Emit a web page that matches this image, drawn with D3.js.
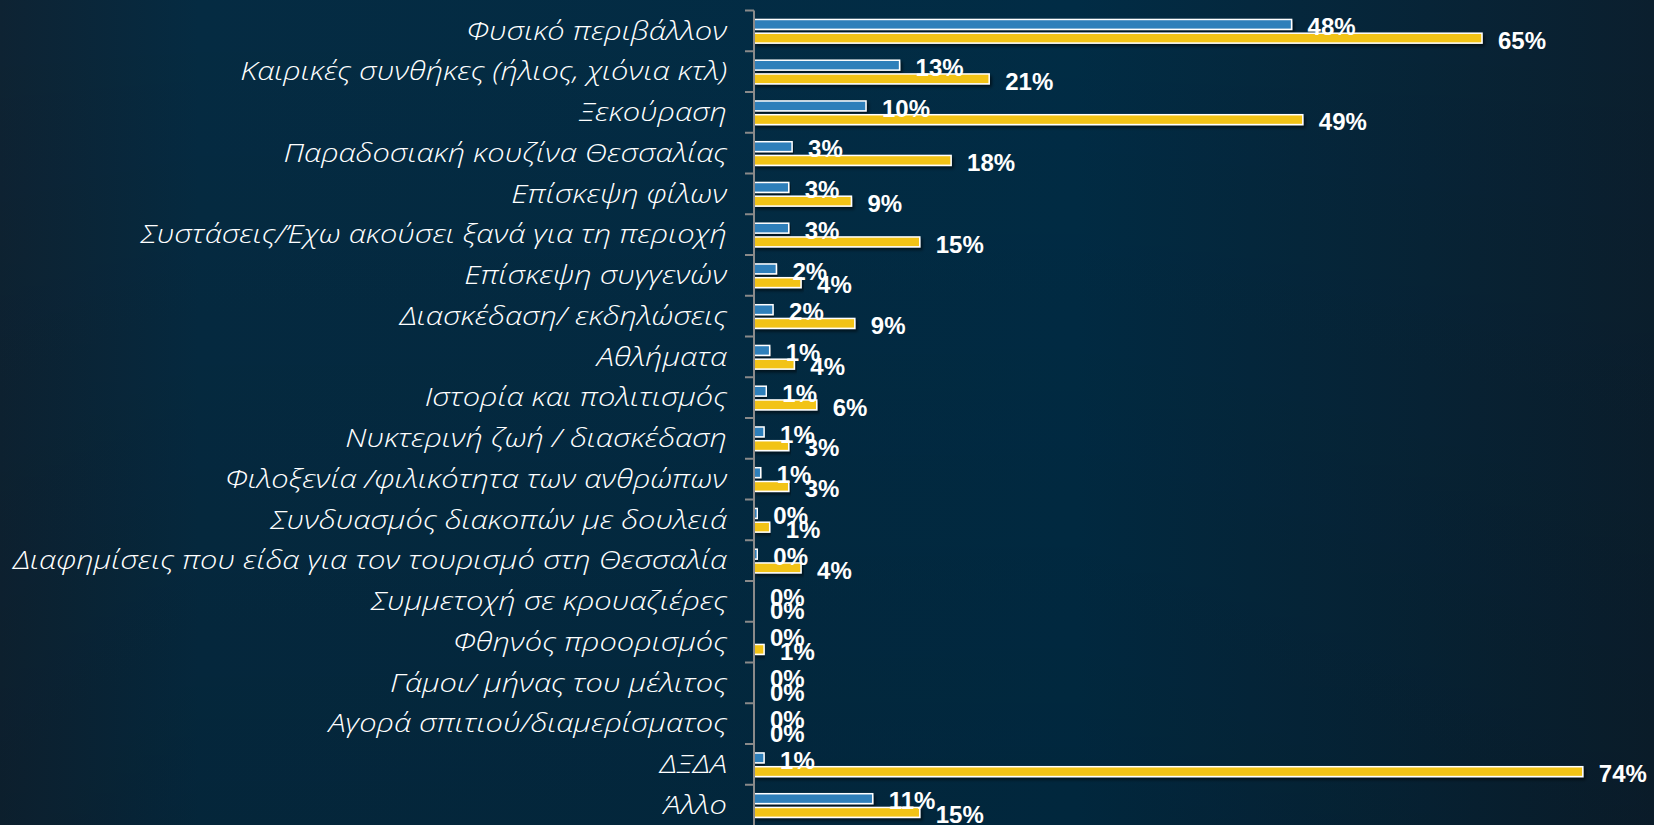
<!DOCTYPE html>
<html>
<head>
<meta charset="utf-8">
<script src="https://cdn.jsdelivr.net/npm/d3@7"></script>
<style>
  body { margin: 0; background: #022b43; overflow: hidden; }
  svg { display: block; }
</style>
</head>
<body>
<div id="chart"></div>
<script>
let svgWidth = 1654;
let svgHeight = 825;

// Data

const categories = [
  "Φυσικό περιβάλλον",
  "Καιρικές συνθήκες (ήλιος, χιόνια κτλ)",
  "Ξεκούραση",
  "Παραδοσιακή κουζίνα Θεσσαλίας",
  "Επίσκεψη φίλων",
  "Συστάσεις/Έχω ακούσει ξανά για τη περιοχή",
  "Επίσκεψη συγγενών",
  "Διασκέδαση/ εκδηλώσεις",
  "Αθλήματα",
  "Ιστορία και πολιτισμός",
  "Νυκτερινή ζωή / διασκέδαση",
  "Φιλοξενία /φιλικότητα των ανθρώπων",
  "Συνδυασμός διακοπών με δουλειά",
  "Διαφημίσεις που είδα για τον τουρισμό στη Θεσσαλία",
  "Συμμετοχή σε κρουαζιέρες",
  "Φθηνός προορισμός",
  "Γάμοι/ μήνας του μέλιτος",
  "Αγορά σπιτιού/διαμερίσματος",
  "ΔΞΔΑ",
  "Άλλο"
];

const blueValues = [0.48, 0.13, 0.10, 0.034, 0.031, 0.031, 0.020, 0.017, 0.014, 0.011,
  0.009, 0.006, 0.003, 0.003, 0, 0, 0, 0, 0.009, 0.106];

const yellowValues = [0.65, 0.21, 0.49, 0.176, 0.087, 0.148, 0.042, 0.09, 0.036, 0.056,
  0.031, 0.031, 0.014, 0.042, 0, 0.009, 0, 0, 0.74, 0.148];

const seriesKeys = ["blue", "yellow"];
const seriesColors = { blue: "#2e7fba", yellow: "#f2c318" };

let rows = categories.map((c, i) => ({ cat: c, blue: blueValues[i], yellow: yellowValues[i] }));

// Svg + background

let svg = d3.select("#chart").append("svg").attr("width", svgWidth).attr("height", svgHeight);
let defs = svg.append("defs");

let bg = defs.append("linearGradient").attr("id", "bg").attr("x1", 0).attr("x2", 1).attr("y1", 0).attr("y2", 0);
bg.append("stop").attr("offset", "0%").attr("stop-color", "#0e2333");
bg.append("stop").attr("offset", "12%").attr("stop-color", "#052b42");
bg.append("stop").attr("offset", "65%").attr("stop-color", "#012c45");
bg.append("stop").attr("offset", "100%").attr("stop-color", "#0b1f2e");

let shade = defs.append("linearGradient").attr("id", "shade").attr("x1", 0).attr("x2", 0).attr("y1", 0).attr("y2", 1);
shade.append("stop").attr("offset", "0%").attr("stop-color", "#000").attr("stop-opacity", 0);
shade.append("stop").attr("offset", "100%").attr("stop-color", "#000").attr("stop-opacity", 0.12);

let shadow = defs.append("filter").attr("id", "shadow").attr("x", "-5%").attr("y", "-50%").attr("width", "110%").attr("height", "220%");
shadow.append("feDropShadow").attr("dx", 2).attr("dy", 2.5).attr("stdDeviation", 1.5)
  .attr("flood-color", "#000").attr("flood-opacity", 0.55);

svg.append("rect").attr("width", svgWidth).attr("height", svgHeight).attr("fill", "url(#bg)");
svg.append("rect").attr("width", svgWidth).attr("height", svgHeight).attr("fill", "url(#shade)");

// Scales

let axisX = 754;
let x = d3.scaleLinear().domain([0, 1]).range([axisX, axisX + 1120]);
let y = d3.scaleBand().domain(categories).range([10.5, 825.5]);
let ySub = d3.scaleBand().domain(seriesKeys)
  .range([y.bandwidth() * 0.22, y.bandwidth() * 0.8])
  .paddingInner(0.28);

// Bars

let groups = svg.selectAll("g.row")
  .data(rows)
  .enter()
  .append("g")
  .attr("class", "row")
  .attr("transform", d => `translate(0, ${y(d.cat)})`);

groups.selectAll("rect")
  .data(d => seriesKeys.map(k => ({ key: k, value: d[k] })).filter(e => e.value > 0))
  .enter()
  .append("rect")
  .attr("x", x(0))
  .attr("y", e => ySub(e.key))
  .attr("width", e => x(e.value) - x(0))
  .attr("height", ySub.bandwidth())
  .attr("fill", e => seriesColors[e.key])
  .attr("stroke", "#ffffff")
  .attr("stroke-width", 1.5)
  .attr("filter", "url(#shadow)");

// Axis line + boundary ticks

let axisG = svg.append("g").attr("class", "axis-line");
axisG.append("line")
  .attr("x1", axisX).attr("x2", axisX)
  .attr("y1", y.range()[0]).attr("y2", y.range()[1])
  .attr("stroke", "#8a8a8a").attr("stroke-width", 2);

axisG.selectAll("line.tick")
  .data(categories)
  .enter()
  .append("line")
  .attr("class", "tick")
  .attr("x1", axisX - 9).attr("x2", axisX)
  .attr("y1", d => y(d)).attr("y2", d => y(d))
  .attr("stroke", "#8a8a8a").attr("stroke-width", 2);

// Category labels

let yAxis = svg.append("g")
  .attr("transform", `translate(${axisX}, 0)`)
  .call(d3.axisLeft(y).tickSize(0).tickPadding(27));
yAxis.select(".domain").remove();
yAxis.selectAll("text")
  .attr("fill", "#ffffff")
  .attr("dy", "0.33em")
  .style("font-family", "'Open Sans', 'Noto Sans', sans-serif")
  .style("font-style", "italic")
  .style("font-weight", 300)
  .style("font-size", "26.5px");

// original font (Century Gothic) is wider: stretch every label by the same factor
let maxW = d3.max(yAxis.selectAll("text").nodes(), n => n.getComputedTextLength());
let stretch = 714 / maxW;
yAxis.selectAll("text").each(function () {
  let w = this.getComputedTextLength();
  d3.select(this).attr("textLength", w * stretch).attr("lengthAdjust", "spacingAndGlyphs");
});

// Value labels

let fmt = d3.format(".0%");

groups.selectAll("text.value")
  .data(d => seriesKeys.map(k => ({ key: k, value: d[k] })))
  .enter()
  .append("text")
  .attr("class", "value")
  .attr("x", e => x(e.value) + 16)
  .attr("y", e => ySub(e.key) + ySub.bandwidth() / 2)
  .attr("dy", "0.45em")
  .attr("fill", "#ffffff")
  .style("font-family", "'Liberation Sans', Arial, sans-serif")
  .style("font-weight", "bold")
  .style("font-size", "24px")
  .text(e => fmt(e.value));
</script>
</body>
</html>
